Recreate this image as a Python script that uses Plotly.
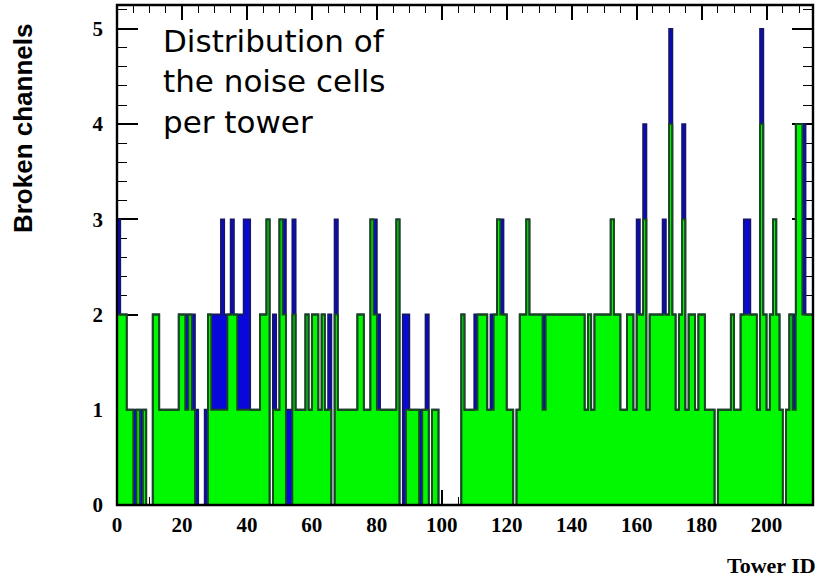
import plotly.graph_objects as go

# Tower IDs (one bin per tower)
tower_ids = list(range(215))

# Green histogram (noise cells per tower)
green_counts = [
    2, 2, 2, 1, 1, 0, 1, 0, 1, 0,
    0, 2, 2, 1, 1, 1, 1, 1, 1, 2,
    2, 1, 2, 1, 0, 0, 0, 0, 2, 1,
    1, 1, 1, 1, 2, 2, 2, 1, 1, 1,
    1, 1, 1, 1, 2, 2, 3, 0, 1, 1,
    3, 2, 0, 0, 2, 1, 1, 1, 2, 1,
    2, 2, 1, 2, 1, 1, 0, 2, 1, 1,
    1, 1, 1, 1, 2, 2, 1, 1, 3, 2,
    1, 1, 1, 1, 1, 1, 3, 0, 0, 1,
    1, 1, 1, 0, 1, 1, 0, 1, 1, 0,
    0, 0, 0, 0, 0, 0, 2, 1, 1, 1,
    1, 2, 2, 2, 1, 1, 2, 3, 2, 2,
    1, 1, 0, 1, 2, 2, 3, 2, 2, 2,
    2, 1, 2, 2, 2, 2, 2, 2, 2, 2,
    2, 2, 2, 2, 1, 2, 1, 2, 2, 2,
    2, 2, 3, 2, 2, 1, 1, 2, 2, 1,
    2, 2, 3, 1, 2, 2, 2, 2, 2, 2,
    4, 2, 1, 2, 3, 1, 2, 2, 1, 2,
    2, 1, 1, 1, 0, 1, 1, 1, 1, 2,
    1, 1, 2, 2, 2, 2, 2, 1, 4, 2,
    1, 2, 3, 2, 1, 0, 1, 2, 1, 4,
    4, 2, 2, 2, 2,
]

# Blue histogram (broken channels per tower)
blue_counts = [
    3, 2, 2, 1, 1, 1, 1, 1, 1, 0,
    0, 2, 2, 1, 1, 1, 1, 1, 1, 2,
    2, 2, 2, 2, 1, 0, 0, 1, 2, 2,
    2, 2, 3, 2, 2, 3, 2, 2, 2, 3,
    3, 1, 1, 1, 2, 2, 3, 0, 2, 1,
    3, 3, 1, 1, 3, 1, 1, 1, 2, 1,
    2, 2, 1, 2, 1, 2, 0, 3, 1, 1,
    1, 1, 1, 1, 2, 2, 1, 1, 3, 3,
    2, 1, 1, 1, 1, 1, 3, 0, 2, 2,
    1, 1, 1, 1, 1, 2, 0, 1, 1, 0,
    0, 0, 0, 0, 0, 0, 2, 1, 1, 1,
    2, 2, 2, 2, 1, 2, 2, 3, 3, 2,
    1, 1, 0, 1, 2, 2, 3, 2, 2, 2,
    2, 2, 2, 2, 2, 2, 2, 2, 2, 2,
    2, 2, 2, 2, 1, 2, 1, 2, 2, 2,
    2, 2, 3, 2, 2, 1, 1, 2, 2, 1,
    3, 2, 4, 1, 2, 2, 2, 2, 3, 2,
    5, 2, 1, 2, 4, 1, 2, 2, 1, 2,
    2, 1, 1, 1, 0, 1, 1, 1, 1, 2,
    1, 1, 2, 3, 3, 2, 2, 1, 5, 2,
    1, 2, 3, 2, 1, 0, 1, 2, 2, 4,
    4, 4, 2, 2, 2,
]

x_ticks = [0, 20, 40, 60, 80, 100, 120, 140, 160, 180, 200]
y_ticks = [0, 1, 2, 3, 4, 5]

edges = tower_ids + [tower_ids[-1] + 1]


def step_xy(counts):
    xs = [edges[0]] + tower_ids + [edges[-1]]
    ys = [0] + counts + [0]
    return xs, ys


fig = go.Figure()

bx, by = step_xy(blue_counts)
gx, gy = step_xy(green_counts)

fig.add_trace(go.Bar(x=tower_ids, y=blue_counts, width=1, offset=0,
                     marker=dict(color="#0808d8", line=dict(width=0)),
                     showlegend=False, hoverinfo="skip"))
fig.add_trace(go.Scatter(x=bx, y=by, mode="lines", line_shape="hv",
                         line=dict(color="#161668", width=1.8),
                         showlegend=False, hoverinfo="skip"))
fig.add_trace(go.Bar(x=tower_ids, y=green_counts, width=1, offset=0,
                     marker=dict(color="#00f800", line=dict(width=0)),
                     showlegend=False, hoverinfo="skip"))
fig.add_trace(go.Scatter(x=gx, y=gy, mode="lines", line_shape="hv",
                         line=dict(color="#1a4a1a", width=1.8),
                         showlegend=False, hoverinfo="skip"))

tickfont = dict(family="Liberation Serif", size=21, color="black", weight="bold")

fig.update_layout(
    width=835, height=588,
    margin=dict(l=117, r=22, t=5, b=83),
    paper_bgcolor="white", plot_bgcolor="white",
    barmode="overlay", bargap=0,
    xaxis=dict(range=[0, 214.3], tickvals=x_ticks, ticktext=[str(v) for v in x_ticks],
               ticks="inside", ticklen=15, tickwidth=1.5, tickcolor="black",
               mirror="ticks", showline=False, showgrid=False, zeroline=False,
               layer="below traces", tickfont=tickfont, ticklabelstandoff=5,
               minor=dict(dtick=5, tick0=0, ticks="inside", ticklen=8,
                          tickwidth=1.2, tickcolor="black", showgrid=False)),
    yaxis=dict(range=[0, 5.25], tickvals=y_ticks, ticktext=[str(v) for v in y_ticks],
               ticks="inside", ticklen=21, tickwidth=1.5, tickcolor="black",
               mirror="ticks", showline=False, showgrid=False, zeroline=False,
               layer="below traces", tickfont=tickfont, ticklabelstandoff=13,
               minor=dict(dtick=0.2, tick0=0, ticks="inside", ticklen=10,
                          tickwidth=1.2, tickcolor="black", showgrid=False)),
    shapes=[dict(type="rect", xref="paper", yref="paper", x0=0, y0=0, x1=1, y1=1,
                 line=dict(color="black", width=2.4), layer="above")],
    annotations=[
        dict(text="Distribution of<br>the noise cells<br>per tower",
             xref="paper", yref="paper", x=0.063, y=0.968,
             xanchor="left", yanchor="top", align="left", showarrow=False,
             font=dict(family="DejaVu Sans", size=31, color="black")),
        dict(text="Broken channels", xref="paper", yref="paper",
             x=-0.135, y=0.754, xanchor="center", yanchor="middle",
             textangle=-90, showarrow=False,
             font=dict(family="Liberation Sans", size=26, color="black", weight="bold")),
        dict(text="Tower ID", xref="paper", yref="paper",
             x=0.941, y=-0.12, xanchor="center", yanchor="middle",
             showarrow=False,
             font=dict(family="Liberation Serif", size=22, color="black", weight="bold")),
    ],
)

fig.write_html("out.html")
